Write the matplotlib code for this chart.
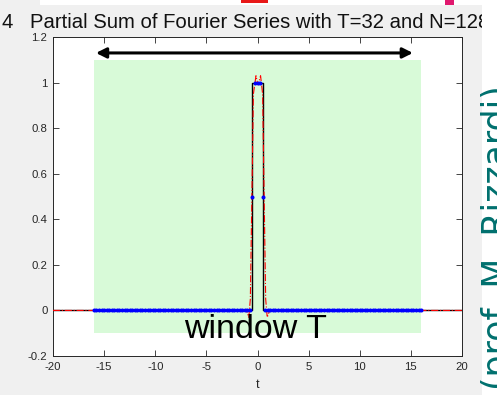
import numpy as np
import matplotlib
matplotlib.use('Agg')
import matplotlib.pyplot as plt
import matplotlib.patches as patches

plt.rcParams['font.family'] = ['Liberation Sans', 'DejaVu Sans']

# --- data ---
T = 32
N = 128
# samples every T/N over the window, non-zero only around the pulse
sample_t = np.linspace(-16, 16, N + 1)
pulse_samples = {-0.5: 0.5, -0.25: 1.0, 0.0: 1.0, 0.25: 1.0, 0.5: 0.5}
sample_y = np.array([pulse_samples.get(round(t, 2), 0.0) for t in sample_t])

# exact rectangular pulse (black)
rect_t = [-20, -0.5, -0.5, 0.55, 0.55, 20]
rect_y = [0, 0, 1, 1, 0, 0]

# partial sum (red dash-dot)
psum_t = [-20, -1.1, -0.85, -0.7, -0.55, -0.4, -0.15, 0.05, 0.3, 0.5, 0.65, 0.8, 0.95, 1.2, 20]
psum_y = [0, 0, -0.03, 0.05, 0.5, 0.95, 1.03, 0.99, 1.03, 0.95, 0.5, 0.05, -0.03, 0, 0]

xticks = [-20, -15, -10, -5, 0, 5, 10, 15, 20]
yticks = [-0.2, 0, 0.2, 0.4, 0.6, 0.8, 1, 1.2]
ytick_labels = ['-0.2', '0', '0.2', '0.4', '0.6', '0.8', '1', '1.2']

W, H = 497, 395
fig = plt.figure(figsize=(W / 100, H / 100), dpi=100)
fig.patch.set_facecolor('white')

def fx(px):
    return px / W

def fy(py):
    return 1 - py / H

# matlab grey window background + bits of the slide around it
fig.patches.append(patches.Rectangle((0, 0), fx(482), fy(5), transform=fig.transFigure,
                                     facecolor='#f0f0f0', edgecolor='none', zorder=-2))
fig.patches.append(patches.Rectangle((0, fy(5)), fx(40), 5 / H, transform=fig.transFigure,
                                     facecolor='#f0f0f0', edgecolor='none', zorder=-2))
fig.patches.append(patches.Rectangle((fx(241), fy(3)), fx(27), 3 / H, transform=fig.transFigure,
                                     facecolor='#e81818', edgecolor='none', zorder=-2))
fig.patches.append(patches.Rectangle((fx(445), fy(5)), fx(9), 5 / H, transform=fig.transFigure,
                                     facecolor='#e0186e', edgecolor='none', zorder=-2))

ax = fig.add_axes([fx(53), fy(356), fx(462 - 53), (356 - 37) / H])
ax.set_facecolor('white')

# window shading
ax.add_patch(patches.Rectangle((-16, -0.1), 32, 1.2, facecolor='#d8fad8', edgecolor='none', zorder=0))

ax.plot(rect_t, rect_y, color='black', lw=1.0, zorder=2)
ax.plot(psum_t, psum_y, color='red', lw=0.8, ls='-.', zorder=3)
ax.plot(sample_t, sample_y, ls='none', marker='.', ms=3.8, color='#0000ff', zorder=4)

# window arrow
ax.annotate('', xy=(15.2, 1.13), xytext=(-15.8, 1.13),
            arrowprops=dict(arrowstyle='<|-|>', color='black', lw=2.2,
                            mutation_scale=15, shrinkA=0, shrinkB=0))
ax.text(-0.2, -0.12, 'window T', fontsize=24.5, ha='center', va='baseline', color='black', zorder=5)

ax.set_xlim(-20, 20)
ax.set_ylim(-0.2, 1.2)
ax.set_xticks(xticks)
ax.set_xticklabels([str(v) for v in xticks])
ax.set_yticks(yticks)
ax.set_yticklabels(ytick_labels)
ax.tick_params(direction='in', length=4, width=0.6, top=True, right=True,
               labelsize=8.2, colors='#262626', pad=4)
for s in ax.spines.values():
    s.set_linewidth(0.7)
    s.set_color('#262626')
ax.set_xlabel('t', fontsize=9, color='#262626', labelpad=5)

# title (cut off on the right in the screenshot)
fig.text(fx(30), fy(28), 'Partial Sum of Fourier Series with T=32 and N=128',
         fontsize=14.6, ha='left', va='baseline', color='#111111', zorder=3)
fig.text(fx(1), fy(28), '4', fontsize=14.6, ha='left', va='baseline', color='#111111', zorder=3)

# white slide margin on the right with the credit text
fig.patches.append(patches.Rectangle((fx(482), 0), fx(15), 1, transform=fig.transFigure,
                                     facecolor='white', edgecolor='none', zorder=5))
fig.text(fx(481), fy(390), '(prof. M. Rizzardi)', fontsize=25, rotation=90,
         rotation_mode='anchor', ha='left', va='top', color='#00706e', zorder=6,
         family='DejaVu Sans')

fig.savefig('out.png', dpi=100, facecolor=fig.get_facecolor())
